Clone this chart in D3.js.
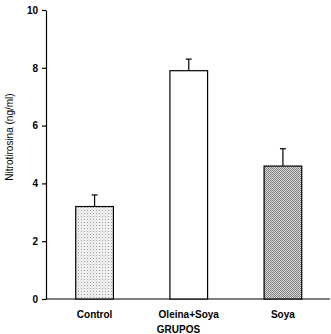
<!DOCTYPE html>
<html><head><meta charset="utf-8">
<script src="https://cdn.jsdelivr.net/npm/d3@7"></script>
<style>body{margin:0;background:#fff}svg{display:block}text{font-family:"Liberation Sans",Arial,sans-serif}</style>
</head><body>
<script>
const categories = ["Control", "Oleina+Soya", "Soya"];
const values = [3.2, 7.9, 4.6];
const errors = [0.4, 0.4, 0.6];
const yTicks = [0, 2, 4, 6, 8, 10];
const fills = ["url(#dots)", "#ffffff", "url(#hatch)"];

const W = 331, H = 334;
const svg = d3.select("body").append("svg").attr("width", W).attr("height", H);
const defs = svg.append("defs");
const p1 = defs.append("pattern").attr("id","dots").attr("patternUnits","userSpaceOnUse").attr("width",3).attr("height",3);
p1.append("rect").attr("width",3).attr("height",3).attr("fill","#f4f4f4");
p1.append("rect").attr("x",0).attr("y",0).attr("width",1).attr("height",1).attr("fill","#9a9a9a");
p1.append("rect").attr("x",1.5).attr("y",1.5).attr("width",1).attr("height",1).attr("fill","#c8c8c8");
const p2 = defs.append("pattern").attr("id","hatch").attr("patternUnits","userSpaceOnUse").attr("width",2).attr("height",2);
p2.append("rect").attr("width",2).attr("height",2).attr("fill","#d4d4d4");
p2.append("rect").attr("x",0).attr("y",0).attr("width",1).attr("height",1).attr("fill","#808080");
p2.append("rect").attr("x",1).attr("y",1).attr("width",1).attr("height",1).attr("fill","#8a8a8a");

const y = d3.scaleLinear().domain([0, 10]).range([299, 10]);
const x = d3.scaleBand().domain(categories).range([47.5, 330]).paddingInner(0.6).paddingOuter(0.3);

const yAxis = svg.append("g").attr("transform","translate(46,0)")
  .call(d3.axisLeft(y).tickValues(yTicks).tickSize(4).tickSizeOuter(0).tickPadding(4));
yAxis.select(".domain").attr("stroke","#000").attr("stroke-width",1.2);
yAxis.selectAll(".tick line").attr("stroke","#000").attr("stroke-width",1.2);
yAxis.selectAll(".tick text").attr("font-size",10).attr("font-weight","bold").attr("fill","#000").attr("font-family","Liberation Sans, Arial, sans-serif");

svg.append("line").attr("x1",46).attr("x2",330).attr("y1",y(0)).attr("y2",y(0)).attr("stroke","#000").attr("stroke-width",1.2);

const g = svg.append("g");
categories.forEach((c,i)=>{
  const bx = x(c), bw = x.bandwidth(), cx = bx + bw/2;
  g.append("line").attr("x1",cx).attr("x2",cx).attr("y1",y(values[i])).attr("y2",y(values[i]+errors[i])).attr("stroke","#000").attr("stroke-width",1.2);
  g.append("line").attr("x1",cx-3).attr("x2",cx+3).attr("y1",y(values[i]+errors[i])).attr("y2",y(values[i]+errors[i])).attr("stroke","#000").attr("stroke-width",1.2);
  g.append("rect").attr("x",bx).attr("y",y(values[i])).attr("width",bw).attr("height",y(0)-y(values[i]))
    .attr("fill",fills[i]).attr("stroke","#000").attr("stroke-width",1.2);
});

categories.forEach(c=>{
  svg.append("text").attr("x",x(c)+x.bandwidth()/2).attr("y",318).attr("text-anchor","middle")
    .attr("font-size",10).attr("font-weight","bold").text(c);
});
const ox = x("Oleina+Soya")+x.bandwidth()/2;
svg.append("text").attr("x",ox-32).attr("y",333).attr("text-anchor","start")
  .attr("font-size",10).attr("font-weight","bold").text("GRUPOS");

svg.append("text").attr("transform","translate(13,137) rotate(-90)").attr("text-anchor","middle")
  .attr("font-size",10).text("Nitrotirosina (ng/ml)");
</script>
</body></html>
